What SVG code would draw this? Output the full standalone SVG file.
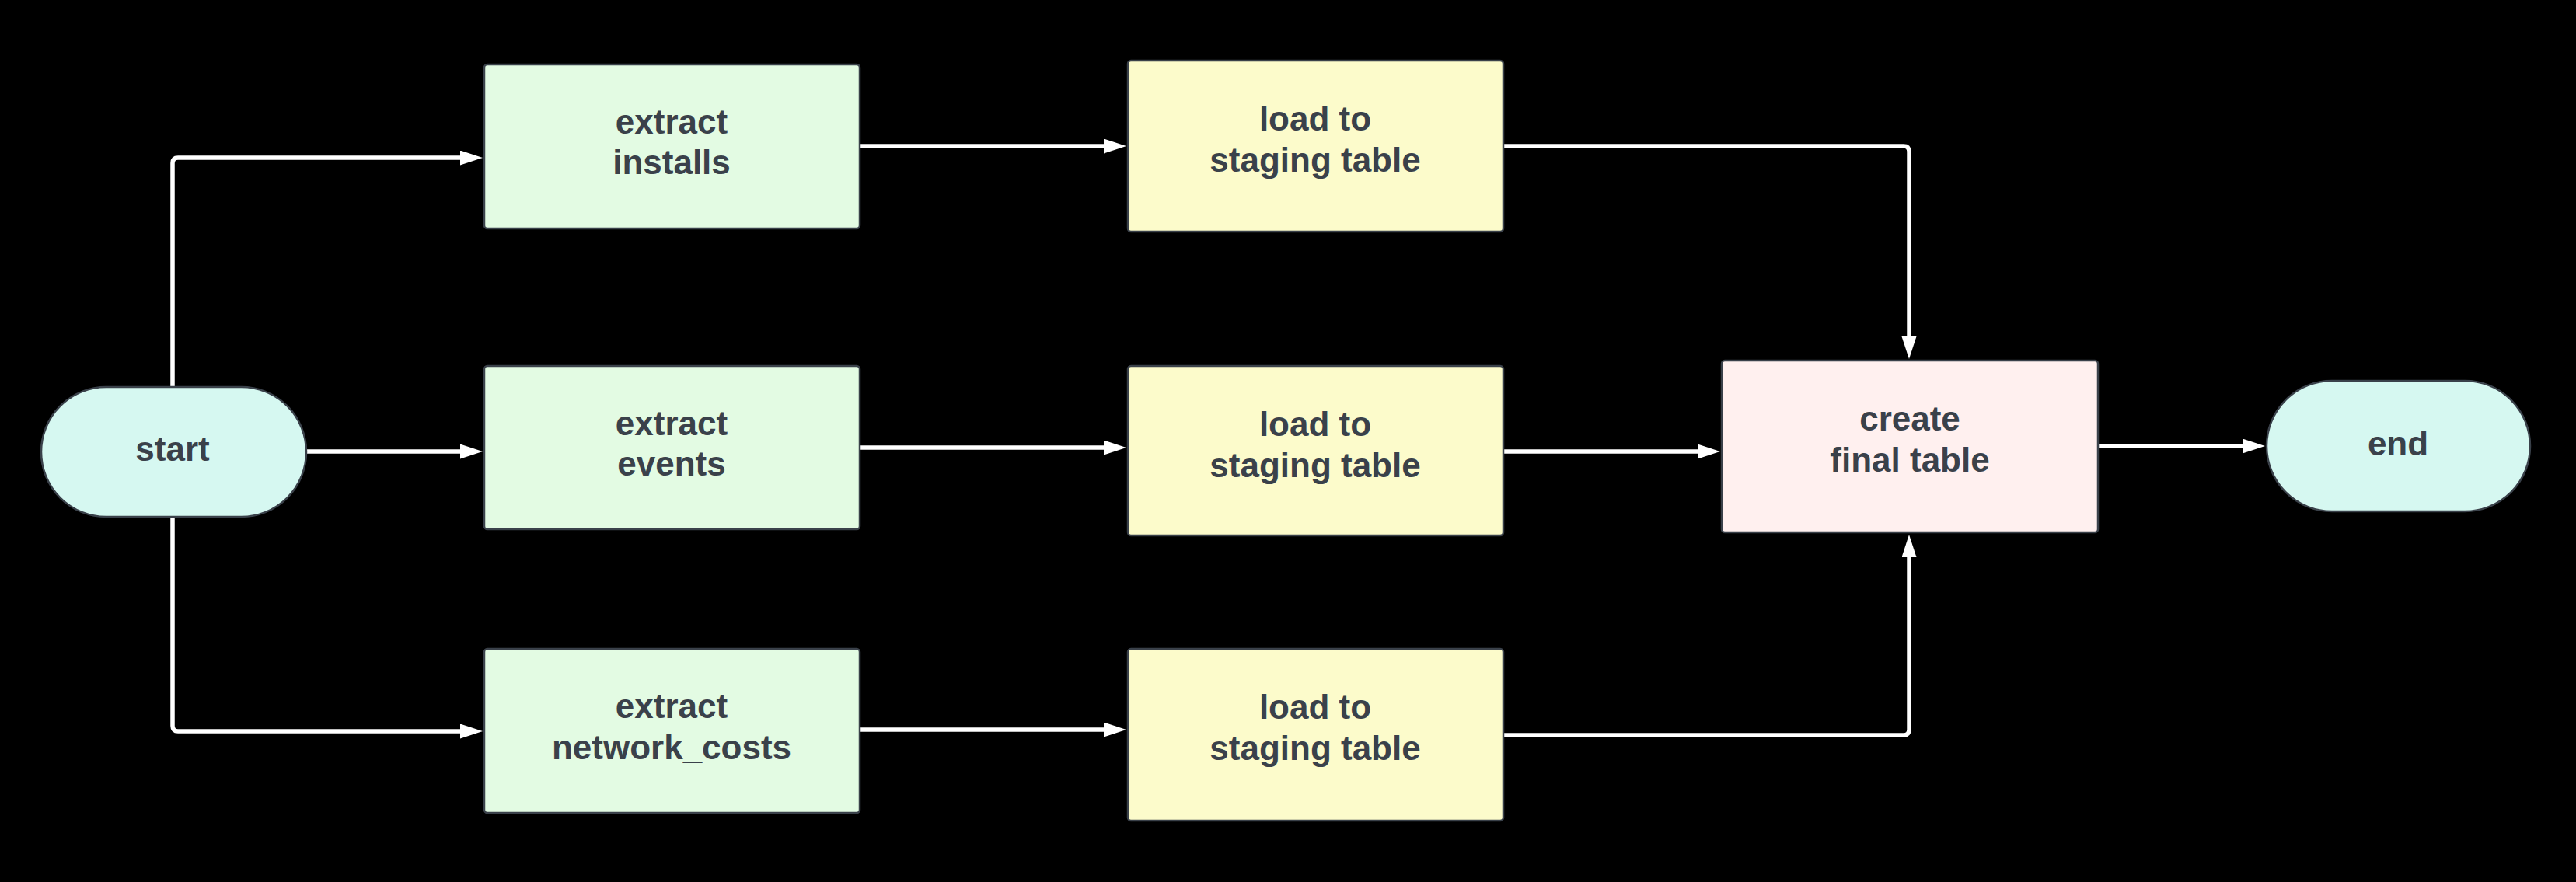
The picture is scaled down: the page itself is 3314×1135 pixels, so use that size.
<svg xmlns="http://www.w3.org/2000/svg" width="3314" height="1135" viewBox="0 0 3314 1135">
<style>
.bg{fill:#000}
.node{stroke:#3a414a;stroke-width:2.5}
.term{fill:#d6f8f1}
.ext{fill:#e3fbe3}
.load{fill:#fcfbcb}
.fin{fill:#fff0ef}
.lbl{font-family:"Liberation Sans",Arial,sans-serif;font-weight:bold;font-size:44px;fill:#3a414a;text-anchor:middle}
.edge{fill:none;stroke:#fff;stroke-width:5.5;stroke-linejoin:round}
</style>
<defs>
<marker id="arr" markerUnits="userSpaceOnUse" markerWidth="30" markerHeight="20" refX="1" refY="9.5" orient="auto">
<path d="M0,0 L29,9.5 L0,19 Z" fill="#fff"/>
</marker>
</defs>
<rect class="bg" x="0" y="0" width="3314" height="1135"/>
<g id="connectors">
<path class="edge" d="M222,498 V210 Q222,203 229,203 H593" marker-end="url(#arr)"/>
<path class="edge" d="M395,581 H593" marker-end="url(#arr)"/>
<path class="edge" d="M222,666 V934 Q222,941 229,941 H593" marker-end="url(#arr)"/>
<path class="edge" d="M1107,188 H1421" marker-end="url(#arr)"/>
<path class="edge" d="M1107,576 H1421" marker-end="url(#arr)"/>
<path class="edge" d="M1107,939 H1421" marker-end="url(#arr)"/>
<path class="edge" d="M1935,188 H2449 Q2456,188 2456,195 V434" marker-end="url(#arr)"/>
<path class="edge" d="M1935,581 H2185" marker-end="url(#arr)"/>
<path class="edge" d="M1935,946 H2449 Q2456,946 2456,939 V716" marker-end="url(#arr)"/>
<path class="edge" d="M2700,574 H2886" marker-end="url(#arr)"/>
</g>
<g id="start">
<rect class="node term" x="53" y="498" width="341" height="167" rx="83.5"/>
<text class="lbl" x="222" y="593">start</text>
</g>
<g id="extract_installs">
<rect class="node ext" x="623" y="83" width="483" height="211" rx="4"/>
<text class="lbl" x="864" y="172">extract</text>
<text class="lbl" x="864" y="224">installs</text>
</g>
<g id="extract_events">
<rect class="node ext" x="623" y="471" width="483" height="210" rx="4"/>
<text class="lbl" x="864" y="560">extract</text>
<text class="lbl" x="864" y="612">events</text>
</g>
<g id="extract_network_costs">
<rect class="node ext" x="623" y="835" width="483" height="211" rx="4"/>
<text class="lbl" x="864" y="924">extract</text>
<text class="lbl" x="864" y="977">network_costs</text>
</g>
<g id="load_top">
<rect class="node load" x="1451" y="78" width="483" height="220" rx="4"/>
<text class="lbl" x="1692" y="168">load to</text>
<text class="lbl" x="1692" y="221">staging table</text>
</g>
<g id="load_mid">
<rect class="node load" x="1451" y="471" width="483" height="218" rx="4"/>
<text class="lbl" x="1692" y="561">load to</text>
<text class="lbl" x="1692" y="614">staging table</text>
</g>
<g id="load_bottom">
<rect class="node load" x="1451" y="835" width="483" height="221" rx="4"/>
<text class="lbl" x="1692" y="925">load to</text>
<text class="lbl" x="1692" y="978">staging table</text>
</g>
<g id="create_final_table">
<rect class="node fin" x="2215" y="464" width="484" height="221" rx="4"/>
<text class="lbl" x="2457" y="554">create</text>
<text class="lbl" x="2457" y="607">final table</text>
</g>
<g id="end">
<rect class="node term" x="2916" y="490" width="339" height="168" rx="84"/>
<text class="lbl" x="3085" y="586">end</text>
</g>
</svg>
